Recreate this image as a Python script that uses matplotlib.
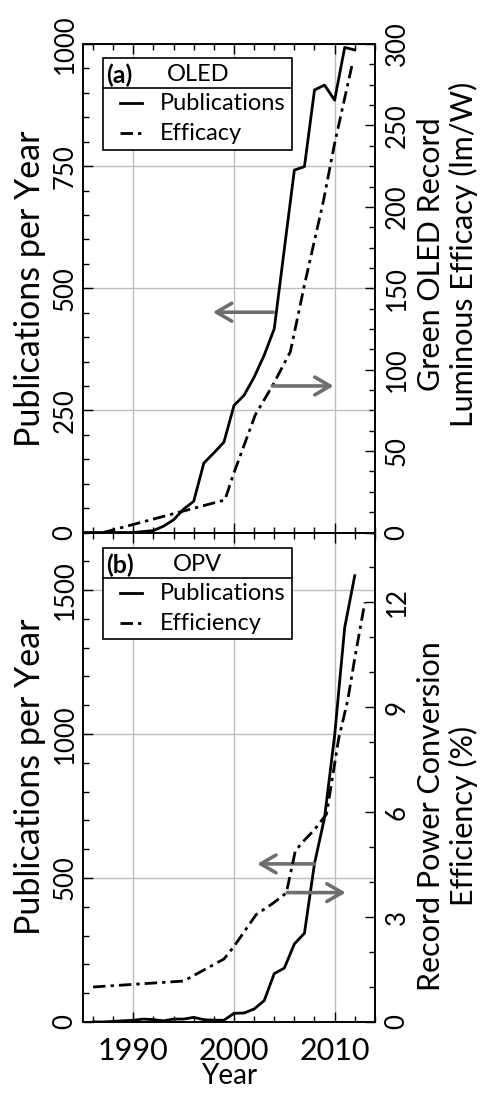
import matplotlib
matplotlib.use("Agg")
import matplotlib.pyplot as plt
from matplotlib.patches import Rectangle
from matplotlib.lines import Line2D
from matplotlib.ticker import MultipleLocator

plt.rcParams['font.family'] = ['Lato', 'DejaVu Sans']

# OLED: publications per year and record green luminous efficacy
oled_years = list(range(1985, 2013))
oled_pubs = [0, 0, 0, 0, 0, 0, 2, 4, 13, 26, 48, 64, 142, 163, 185, 260,
             281, 318, 363, 417, 580, 742, 749, 906, 916, 885, 993, 988]
oled_eff_years = [1987, 1999.1, 1999.9, 2002.1, 2003.9, 2005.6, 2007.0, 2008.9, 2010.0, 2011.8]
oled_eff = [0, 20, 35, 72, 91, 111, 152, 204, 239, 289]

# OPV: publications per year and record power conversion efficiency
opv_years = list(range(1986, 2013))
opv_pubs = [0, 0, 2, 4, 6, 10, 8, 4, 10, 10, 16, 8, 6, 6, 30, 31, 45, 74,
            168, 187, 271, 308, 550, 710, 995, 1370, 1550]
opv_eff_years = [1986, 1995, 1999, 2000, 2002.2, 2003.9, 2005.2, 2006.1, 2007,
                 2008, 2009.2, 2010.4, 2011.3, 2012, 2013]
opv_eff = [1.0, 1.17, 1.8, 2.16, 3.07, 3.4, 3.69, 4.9, 5.2, 5.5, 5.95, 8.1, 9.2, 10.4, 12.0]

year_ticks = [1990, 2000, 2010]
arrow_grey = '#6e6e6e'
dashdot = (0, (4.5, 1.8, 1.2, 1.8))
LW = 2.0
YTICK_FS = 18.5
XTICK_FS = 22
LABEL_FS = 24.5
RLABEL_FS = 22
KEY_FS = 17


def style_axes(ax, twin, ymax_left, left_major, left_minor, ymax_right, right_major, right_minor):
    ax.set_xlim(1985, 2014)
    ax.set_ylim(0, ymax_left)
    twin.set_ylim(0, ymax_right)
    ax.xaxis.set_major_locator(MultipleLocator(10))
    ax.xaxis.set_minor_locator(MultipleLocator(2))
    ax.yaxis.set_major_locator(MultipleLocator(left_major))
    ax.yaxis.set_minor_locator(MultipleLocator(left_minor))
    twin.yaxis.set_major_locator(MultipleLocator(right_major))
    twin.yaxis.set_minor_locator(MultipleLocator(right_minor))
    ax.grid(True, which='major', color='#bdbdbd', lw=1.0)
    ax.set_axisbelow(True)
    for a in (ax, twin):
        a.tick_params(which='both', direction='in', top=True, width=1.0)
        a.tick_params(which='major', length=7)
        a.tick_params(which='minor', length=4)
        for s in a.spines.values():
            s.set_linewidth(1.2)
    ax.tick_params(axis='y', labelrotation=90, labelsize=YTICK_FS, pad=4)
    twin.tick_params(axis='y', labelrotation=90, labelsize=YTICK_FS, pad=7)
    ax.tick_params(axis='x', labelsize=XTICK_FS, pad=11)
    for lab in ax.get_yticklabels() + twin.get_yticklabels():
        lab.set_va('center')


def draw_key(ax, tag, name, name_x, labels, top, divider, bottom, rows):
    ax.add_patch(Rectangle((0.067, bottom), 0.65, top - bottom, transform=ax.transAxes,
                           fill=True, facecolor='white', edgecolor='black', lw=1.2, zorder=5))
    ax.add_line(Line2D([0.067, 0.717], [divider, divider], transform=ax.transAxes,
                       color='black', lw=1.2, zorder=6))
    ax.text(0.078, rows[0], tag, transform=ax.transAxes, fontsize=KEY_FS + 1, fontweight='bold',
            va='center', ha='left', zorder=6)
    ax.text(name_x, rows[0], name, transform=ax.transAxes, fontsize=KEY_FS,
            va='center', ha='left', zorder=6)
    styles = ['-', dashdot]
    for y, lab, ls in zip(rows[1:], labels, styles):
        ax.add_line(Line2D([0.127, 0.202], [y, y], transform=ax.transAxes, color='black',
                           lw=LW, ls=ls, zorder=6))
        ax.text(0.264, y, lab, transform=ax.transAxes, fontsize=KEY_FS,
                va='center', ha='left', zorder=6)


def arrow(ax, x0, x1, y):
    ax.annotate('', xy=(x1, y), xytext=(x0, y),
                arrowprops=dict(arrowstyle='->,head_length=0.55,head_width=0.32',
                                color=arrow_grey, lw=2.6, mutation_scale=20,
                                shrinkA=0, shrinkB=0))


fig = plt.figure(figsize=(4.8, 10.93), dpi=100)
ax_top = fig.add_axes([0.173, 0.5128, 0.608, 0.4469])
ax_bot = fig.add_axes([0.173, 0.065, 0.608, 0.4478])
tw_top = ax_top.twinx()
tw_bot = ax_bot.twinx()

# (a) OLED
ax_top.plot(oled_years, oled_pubs, color='black', lw=LW)
tw_top.plot(oled_eff_years, oled_eff, color='black', lw=LW, ls=dashdot)
style_axes(ax_top, tw_top, 1000, 250, 50, 300, 50, 12.5)
ax_top.tick_params(axis='x', labelbottom=False)
ax_top.set_ylabel('Publications per Year', fontsize=LABEL_FS, labelpad=5)
tw_top.set_ylabel('Green OLED Record\nLuminous Efficacy (lm/W)', fontsize=RLABEL_FS,
                  rotation=90, linespacing=1.15)
tw_top.yaxis.set_label_coords(1.145, 0.57)
arrow(ax_top, 2003.9, 1997.9, 451)
arrow(tw_top, 2003.8, 2009.9, 90)
draw_key(tw_top, '(a)', 'OLED', 0.288, ['Publications', 'Efficacy'],
         0.971, 0.909, 0.784, [0.937, 0.879, 0.817])

# (b) OPV
ax_bot.plot(opv_years, opv_pubs, color='black', lw=LW)
tw_bot.plot(opv_eff_years, opv_eff, color='black', lw=LW, ls=dashdot)
style_axes(ax_bot, tw_bot, 1700, 500, 100, 14, 3, 1)
ax_bot.set_xticks(year_ticks)
ax_bot.set_xlabel('Year', fontsize=20)
ax_bot.xaxis.set_label_coords(0.5, -0.083)
ax_bot.set_ylabel('Publications per Year', fontsize=LABEL_FS, labelpad=5)
tw_bot.set_ylabel('Record Power Conversion\nEfficiency (%)', fontsize=RLABEL_FS,
                  rotation=90, linespacing=1.15)
tw_bot.yaxis.set_label_coords(1.145, 0.42)
arrow(ax_bot, 2008.0, 2002.3, 549)
arrow(tw_bot, 2005.3, 2011.1, 3.7)
draw_key(tw_bot, '(b)', 'OPV', 0.308, ['Publications', 'Efficiency'],
         0.968, 0.908, 0.782, [0.934, 0.876, 0.815])

fig.savefig('out.png', dpi=100)
